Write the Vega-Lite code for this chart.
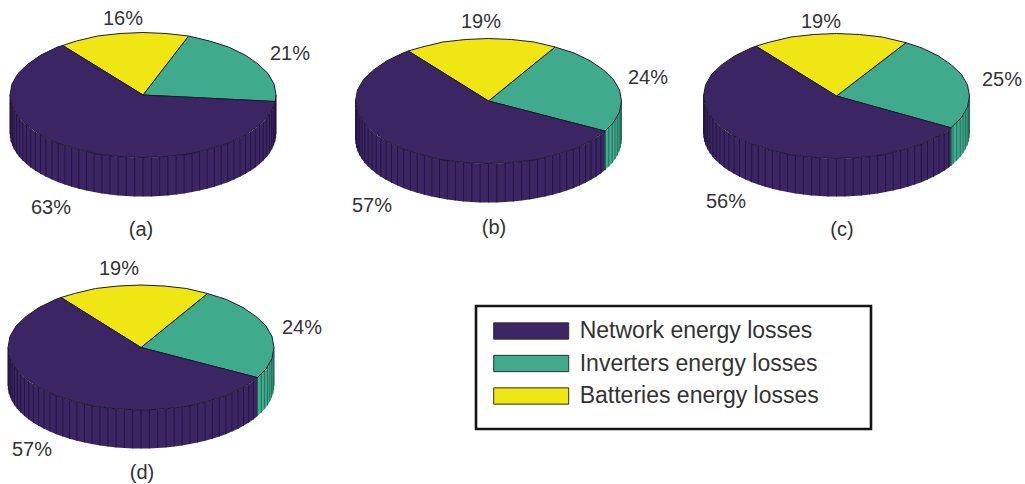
{"$schema":"https://vega.github.io/schema/vega-lite/v6.json","width":1025,"height":484,"padding":0,"autosize":{"type":"fit","contains":"padding"},"background":"white","config":{"view":{"stroke":null}},
"datasets":{
"walls":[
{"pie":"a","s":"N","x":10,"y":95,"b":134},{"pie":"a","s":"N","x":10.3,"y":98.9,"b":137.9},{"pie":"a","s":"N","x":11,"y":102.8,"b":141.8},{"pie":"a","s":"N","x":12.4,"y":106.7,"b":145.7},{"pie":"a","s":"N","x":14.2,"y":110.5,"b":149.5},{"pie":"a","s":"N","x":16.5,"y":114.3,"b":153.3},{"pie":"a","s":"N","x":19.3,"y":118,"b":157},{"pie":"a","s":"N","x":22.7,"y":121.6,"b":160.6},{"pie":"a","s":"N","x":26.5,"y":125.1,"b":164.1},{"pie":"a","s":"N","x":30.7,"y":128.5,"b":167.5},{"pie":"a","s":"N","x":35.4,"y":131.7,"b":170.7},{"pie":"a","s":"N","x":40.5,"y":134.8,"b":173.8},{"pie":"a","s":"N","x":46,"y":137.8,"b":176.8},{"pie":"a","s":"N","x":52,"y":140.6,"b":179.6},{"pie":"a","s":"N","x":58.2,"y":143.2,"b":182.2},{"pie":"a","s":"N","x":64.8,"y":145.6,"b":184.6},{"pie":"a","s":"N","x":71.7,"y":147.8,"b":186.8},{"pie":"a","s":"N","x":78.9,"y":149.8,"b":188.8},{"pie":"a","s":"N","x":86.4,"y":151.6,"b":190.6},{"pie":"a","s":"N","x":94,"y":153.1,"b":192.1},{"pie":"a","s":"N","x":101.9,"y":154.4,"b":193.4},{"pie":"a","s":"N","x":109.9,"y":155.5,"b":194.5},{"pie":"a","s":"N","x":118.1,"y":156.4,"b":195.4},{"pie":"a","s":"N","x":126.3,"y":157,"b":196},{"pie":"a","s":"N","x":134.6,"y":157.4,"b":196.4},{"pie":"a","s":"N","x":143,"y":157.5,"b":196.5},{"pie":"a","s":"N","x":151.4,"y":157.4,"b":196.4},{"pie":"a","s":"N","x":159.7,"y":157,"b":196},{"pie":"a","s":"N","x":167.9,"y":156.4,"b":195.4},{"pie":"a","s":"N","x":176.1,"y":155.5,"b":194.5},{"pie":"a","s":"N","x":184.1,"y":154.4,"b":193.4},{"pie":"a","s":"N","x":192,"y":153.1,"b":192.1},{"pie":"a","s":"N","x":199.6,"y":151.6,"b":190.6},{"pie":"a","s":"N","x":207.1,"y":149.8,"b":188.8},{"pie":"a","s":"N","x":214.3,"y":147.8,"b":186.8},{"pie":"a","s":"N","x":221.2,"y":145.6,"b":184.6},{"pie":"a","s":"N","x":227.8,"y":143.2,"b":182.2},{"pie":"a","s":"N","x":234,"y":140.6,"b":179.6},{"pie":"a","s":"N","x":240,"y":137.8,"b":176.8},{"pie":"a","s":"N","x":245.5,"y":134.8,"b":173.8},{"pie":"a","s":"N","x":250.6,"y":131.7,"b":170.7},{"pie":"a","s":"N","x":255.3,"y":128.5,"b":167.5},{"pie":"a","s":"N","x":259.5,"y":125.1,"b":164.1},{"pie":"a","s":"N","x":263.3,"y":121.6,"b":160.6},{"pie":"a","s":"N","x":266.7,"y":118,"b":157},{"pie":"a","s":"N","x":269.5,"y":114.3,"b":153.3},{"pie":"a","s":"N","x":271.8,"y":110.5,"b":149.5},{"pie":"a","s":"N","x":273.6,"y":106.7,"b":145.7},{"pie":"a","s":"N","x":275,"y":102.8,"b":141.8},{"pie":"a","s":"N","x":275.7,"y":98.9,"b":137.9},{"pie":"a","s":"N","x":276,"y":95,"b":134},
{"pie":"b","s":"N","x":355.5,"y":101,"b":140},{"pie":"b","s":"N","x":355.8,"y":104.9,"b":143.9},{"pie":"b","s":"N","x":356.5,"y":108.8,"b":147.8},{"pie":"b","s":"N","x":357.9,"y":112.7,"b":151.7},{"pie":"b","s":"N","x":359.7,"y":116.5,"b":155.5},{"pie":"b","s":"N","x":362,"y":120.3,"b":159.3},{"pie":"b","s":"N","x":364.8,"y":124,"b":163},{"pie":"b","s":"N","x":368.2,"y":127.6,"b":166.6},{"pie":"b","s":"N","x":372,"y":131.1,"b":170.1},{"pie":"b","s":"N","x":376.2,"y":134.5,"b":173.5},{"pie":"b","s":"N","x":380.9,"y":137.7,"b":176.7},{"pie":"b","s":"N","x":386,"y":140.8,"b":179.8},{"pie":"b","s":"N","x":391.5,"y":143.8,"b":182.8},{"pie":"b","s":"N","x":397.5,"y":146.6,"b":185.6},{"pie":"b","s":"N","x":403.7,"y":149.2,"b":188.2},{"pie":"b","s":"N","x":410.3,"y":151.6,"b":190.6},{"pie":"b","s":"N","x":417.2,"y":153.8,"b":192.8},{"pie":"b","s":"N","x":424.4,"y":155.8,"b":194.8},{"pie":"b","s":"N","x":431.9,"y":157.6,"b":196.6},{"pie":"b","s":"N","x":439.5,"y":159.1,"b":198.1},{"pie":"b","s":"N","x":447.4,"y":160.4,"b":199.4},{"pie":"b","s":"N","x":455.4,"y":161.5,"b":200.5},{"pie":"b","s":"N","x":463.6,"y":162.4,"b":201.4},{"pie":"b","s":"N","x":471.8,"y":163,"b":202},{"pie":"b","s":"N","x":480.1,"y":163.4,"b":202.4},{"pie":"b","s":"N","x":488.5,"y":163.5,"b":202.5},{"pie":"b","s":"N","x":496.9,"y":163.4,"b":202.4},{"pie":"b","s":"N","x":505.2,"y":163,"b":202},{"pie":"b","s":"N","x":513.4,"y":162.4,"b":201.4},{"pie":"b","s":"N","x":521.6,"y":161.5,"b":200.5},{"pie":"b","s":"N","x":529.6,"y":160.4,"b":199.4},{"pie":"b","s":"N","x":537.5,"y":159.1,"b":198.1},{"pie":"b","s":"N","x":545.1,"y":157.6,"b":196.6},{"pie":"b","s":"N","x":552.6,"y":155.8,"b":194.8},{"pie":"b","s":"N","x":559.8,"y":153.8,"b":192.8},{"pie":"b","s":"N","x":566.7,"y":151.6,"b":190.6},{"pie":"b","s":"N","x":573.3,"y":149.2,"b":188.2},{"pie":"b","s":"N","x":579.5,"y":146.6,"b":185.6},{"pie":"b","s":"N","x":585.5,"y":143.8,"b":182.8},{"pie":"b","s":"N","x":591,"y":140.8,"b":179.8},{"pie":"b","s":"N","x":596.1,"y":137.7,"b":176.7},{"pie":"b","s":"N","x":600.8,"y":134.5,"b":173.5},{"pie":"b","s":"N","x":605,"y":131.1,"b":170.1},
{"pie":"b","s":"I","x":605,"y":131.1,"b":170.1},{"pie":"b","s":"I","x":608.8,"y":127.6,"b":166.6},{"pie":"b","s":"I","x":612.2,"y":124,"b":163},{"pie":"b","s":"I","x":615,"y":120.3,"b":159.3},{"pie":"b","s":"I","x":617.3,"y":116.5,"b":155.5},{"pie":"b","s":"I","x":619.1,"y":112.7,"b":151.7},{"pie":"b","s":"I","x":620.5,"y":108.8,"b":147.8},{"pie":"b","s":"I","x":621.2,"y":104.9,"b":143.9},{"pie":"b","s":"I","x":621.5,"y":101,"b":140},
{"pie":"c","s":"N","x":703.5,"y":96,"b":134},{"pie":"c","s":"N","x":703.8,"y":99.9,"b":137.9},{"pie":"c","s":"N","x":704.5,"y":103.8,"b":141.8},{"pie":"c","s":"N","x":705.9,"y":107.7,"b":145.7},{"pie":"c","s":"N","x":707.7,"y":111.5,"b":149.5},{"pie":"c","s":"N","x":710,"y":115.3,"b":153.3},{"pie":"c","s":"N","x":712.8,"y":119,"b":157},{"pie":"c","s":"N","x":716.2,"y":122.6,"b":160.6},{"pie":"c","s":"N","x":720,"y":126.1,"b":164.1},{"pie":"c","s":"N","x":724.2,"y":129.5,"b":167.5},{"pie":"c","s":"N","x":728.9,"y":132.7,"b":170.7},{"pie":"c","s":"N","x":734,"y":135.8,"b":173.8},{"pie":"c","s":"N","x":739.5,"y":138.8,"b":176.8},{"pie":"c","s":"N","x":745.5,"y":141.6,"b":179.6},{"pie":"c","s":"N","x":751.7,"y":144.2,"b":182.2},{"pie":"c","s":"N","x":758.3,"y":146.6,"b":184.6},{"pie":"c","s":"N","x":765.2,"y":148.8,"b":186.8},{"pie":"c","s":"N","x":772.4,"y":150.8,"b":188.8},{"pie":"c","s":"N","x":779.9,"y":152.6,"b":190.6},{"pie":"c","s":"N","x":787.5,"y":154.1,"b":192.1},{"pie":"c","s":"N","x":795.4,"y":155.4,"b":193.4},{"pie":"c","s":"N","x":803.4,"y":156.5,"b":194.5},{"pie":"c","s":"N","x":811.6,"y":157.4,"b":195.4},{"pie":"c","s":"N","x":819.8,"y":158,"b":196},{"pie":"c","s":"N","x":828.1,"y":158.4,"b":196.4},{"pie":"c","s":"N","x":836.5,"y":158.5,"b":196.5},{"pie":"c","s":"N","x":844.9,"y":158.4,"b":196.4},{"pie":"c","s":"N","x":853.2,"y":158,"b":196},{"pie":"c","s":"N","x":861.4,"y":157.4,"b":195.4},{"pie":"c","s":"N","x":869.6,"y":156.5,"b":194.5},{"pie":"c","s":"N","x":877.6,"y":155.4,"b":193.4},{"pie":"c","s":"N","x":885.5,"y":154.1,"b":192.1},{"pie":"c","s":"N","x":893.1,"y":152.6,"b":190.6},{"pie":"c","s":"N","x":900.6,"y":150.8,"b":188.8},{"pie":"c","s":"N","x":907.8,"y":148.8,"b":186.8},{"pie":"c","s":"N","x":914.7,"y":146.6,"b":184.6},{"pie":"c","s":"N","x":921.3,"y":144.2,"b":182.2},{"pie":"c","s":"N","x":927.5,"y":141.6,"b":179.6},{"pie":"c","s":"N","x":933.5,"y":138.8,"b":176.8},{"pie":"c","s":"N","x":939,"y":135.8,"b":173.8},{"pie":"c","s":"N","x":944.1,"y":132.7,"b":170.7},{"pie":"c","s":"N","x":948.8,"y":129.5,"b":167.5},{"pie":"c","s":"N","x":950.9,"y":127.8,"b":165.8},
{"pie":"c","s":"I","x":950.9,"y":127.8,"b":165.8},{"pie":"c","s":"I","x":953,"y":126.1,"b":164.1},{"pie":"c","s":"I","x":956.8,"y":122.6,"b":160.6},{"pie":"c","s":"I","x":960.2,"y":119,"b":157},{"pie":"c","s":"I","x":963,"y":115.3,"b":153.3},{"pie":"c","s":"I","x":965.3,"y":111.5,"b":149.5},{"pie":"c","s":"I","x":967.1,"y":107.7,"b":145.7},{"pie":"c","s":"I","x":968.5,"y":103.8,"b":141.8},{"pie":"c","s":"I","x":969.2,"y":99.9,"b":137.9},{"pie":"c","s":"I","x":969.5,"y":96,"b":134},
{"pie":"d","s":"N","x":8,"y":347.5,"b":386},{"pie":"d","s":"N","x":8.3,"y":351.4,"b":389.9},{"pie":"d","s":"N","x":9,"y":355.3,"b":393.8},{"pie":"d","s":"N","x":10.4,"y":359.2,"b":397.7},{"pie":"d","s":"N","x":12.2,"y":363,"b":401.5},{"pie":"d","s":"N","x":14.5,"y":366.8,"b":405.3},{"pie":"d","s":"N","x":17.3,"y":370.5,"b":409},{"pie":"d","s":"N","x":20.7,"y":374.1,"b":412.6},{"pie":"d","s":"N","x":24.5,"y":377.6,"b":416.1},{"pie":"d","s":"N","x":28.7,"y":381,"b":419.5},{"pie":"d","s":"N","x":33.4,"y":384.2,"b":422.7},{"pie":"d","s":"N","x":38.5,"y":387.3,"b":425.8},{"pie":"d","s":"N","x":44,"y":390.3,"b":428.8},{"pie":"d","s":"N","x":50,"y":393.1,"b":431.6},{"pie":"d","s":"N","x":56.2,"y":395.7,"b":434.2},{"pie":"d","s":"N","x":62.8,"y":398.1,"b":436.6},{"pie":"d","s":"N","x":69.7,"y":400.3,"b":438.8},{"pie":"d","s":"N","x":76.9,"y":402.3,"b":440.8},{"pie":"d","s":"N","x":84.4,"y":404.1,"b":442.6},{"pie":"d","s":"N","x":92,"y":405.6,"b":444.1},{"pie":"d","s":"N","x":99.9,"y":406.9,"b":445.4},{"pie":"d","s":"N","x":107.9,"y":408,"b":446.5},{"pie":"d","s":"N","x":116.1,"y":408.9,"b":447.4},{"pie":"d","s":"N","x":124.3,"y":409.5,"b":448},{"pie":"d","s":"N","x":132.6,"y":409.9,"b":448.4},{"pie":"d","s":"N","x":141,"y":410,"b":448.5},{"pie":"d","s":"N","x":149.4,"y":409.9,"b":448.4},{"pie":"d","s":"N","x":157.7,"y":409.5,"b":448},{"pie":"d","s":"N","x":165.9,"y":408.9,"b":447.4},{"pie":"d","s":"N","x":174.1,"y":408,"b":446.5},{"pie":"d","s":"N","x":182.1,"y":406.9,"b":445.4},{"pie":"d","s":"N","x":190,"y":405.6,"b":444.1},{"pie":"d","s":"N","x":197.6,"y":404.1,"b":442.6},{"pie":"d","s":"N","x":205.1,"y":402.3,"b":440.8},{"pie":"d","s":"N","x":212.3,"y":400.3,"b":438.8},{"pie":"d","s":"N","x":219.2,"y":398.1,"b":436.6},{"pie":"d","s":"N","x":225.8,"y":395.7,"b":434.2},{"pie":"d","s":"N","x":232,"y":393.1,"b":431.6},{"pie":"d","s":"N","x":238,"y":390.3,"b":428.8},{"pie":"d","s":"N","x":243.5,"y":387.3,"b":425.8},{"pie":"d","s":"N","x":248.6,"y":384.2,"b":422.7},{"pie":"d","s":"N","x":253.3,"y":381,"b":419.5},{"pie":"d","s":"N","x":257.5,"y":377.6,"b":416.1},
{"pie":"d","s":"I","x":257.5,"y":377.6,"b":416.1},{"pie":"d","s":"I","x":261.3,"y":374.1,"b":412.6},{"pie":"d","s":"I","x":264.7,"y":370.5,"b":409},{"pie":"d","s":"I","x":267.5,"y":366.8,"b":405.3},{"pie":"d","s":"I","x":269.8,"y":363,"b":401.5},{"pie":"d","s":"I","x":271.6,"y":359.2,"b":397.7},{"pie":"d","s":"I","x":273,"y":355.3,"b":393.8},{"pie":"d","s":"I","x":273.7,"y":351.4,"b":389.9},{"pie":"d","s":"I","x":274,"y":347.5,"b":386}
],
"tops":[
{"pie":"a","s":"I","i":0,"x":143,"y":95},{"pie":"a","s":"I","i":1,"x":275.3,"y":101.5},{"pie":"a","s":"I","i":2,"x":276,"y":95},{"pie":"a","s":"I","i":3,"x":274,"y":84},{"pie":"a","s":"I","i":4,"x":268,"y":73.5},{"pie":"a","s":"I","i":5,"x":258,"y":64},{"pie":"a","s":"I","i":6,"x":245,"y":55},{"pie":"a","s":"I","i":7,"x":228.5,"y":47},{"pie":"a","s":"I","i":8,"x":209.5,"y":41},{"pie":"a","s":"I","i":9,"x":188.5,"y":36},{"pie":"a","s":"I","i":10,"x":143,"y":95},
{"pie":"a","s":"B","i":0,"x":143,"y":95},{"pie":"a","s":"B","i":1,"x":188.5,"y":36},{"pie":"a","s":"B","i":2,"x":166,"y":33.5},{"pie":"a","s":"B","i":3,"x":143,"y":32.5},{"pie":"a","s":"B","i":4,"x":120,"y":33.5},{"pie":"a","s":"B","i":5,"x":97.5,"y":36},{"pie":"a","s":"B","i":6,"x":76.5,"y":41},{"pie":"a","s":"B","i":7,"x":62.7,"y":45.5},{"pie":"a","s":"B","i":8,"x":143,"y":95},
{"pie":"a","s":"N","i":0,"x":143,"y":95},{"pie":"a","s":"N","i":1,"x":62.7,"y":45.5},{"pie":"a","s":"N","i":2,"x":57.5,"y":47},{"pie":"a","s":"N","i":3,"x":41,"y":55},{"pie":"a","s":"N","i":4,"x":28,"y":64},{"pie":"a","s":"N","i":5,"x":18,"y":73.5},{"pie":"a","s":"N","i":6,"x":12,"y":84},{"pie":"a","s":"N","i":7,"x":10,"y":95},{"pie":"a","s":"N","i":8,"x":12,"y":106},{"pie":"a","s":"N","i":9,"x":18,"y":116.5},{"pie":"a","s":"N","i":10,"x":28,"y":126},{"pie":"a","s":"N","i":11,"x":41,"y":135},{"pie":"a","s":"N","i":12,"x":57.5,"y":143},{"pie":"a","s":"N","i":13,"x":76.5,"y":149},{"pie":"a","s":"N","i":14,"x":97.5,"y":154},{"pie":"a","s":"N","i":15,"x":120,"y":156.5},{"pie":"a","s":"N","i":16,"x":143,"y":157.5},{"pie":"a","s":"N","i":17,"x":166,"y":156.5},{"pie":"a","s":"N","i":18,"x":188.5,"y":154},{"pie":"a","s":"N","i":19,"x":209.5,"y":149},{"pie":"a","s":"N","i":20,"x":228.5,"y":143},{"pie":"a","s":"N","i":21,"x":245,"y":135},{"pie":"a","s":"N","i":22,"x":258,"y":126},{"pie":"a","s":"N","i":23,"x":268,"y":116.5},{"pie":"a","s":"N","i":24,"x":274,"y":106},{"pie":"a","s":"N","i":25,"x":275.3,"y":101.5},{"pie":"a","s":"N","i":26,"x":143,"y":95},
{"pie":"b","s":"I","i":0,"x":488.5,"y":101},{"pie":"b","s":"I","i":1,"x":605,"y":131.1},{"pie":"b","s":"I","i":2,"x":613.5,"y":122.5},{"pie":"b","s":"I","i":3,"x":619.5,"y":112},{"pie":"b","s":"I","i":4,"x":621.5,"y":101},{"pie":"b","s":"I","i":5,"x":619.5,"y":90},{"pie":"b","s":"I","i":6,"x":613.5,"y":79.5},{"pie":"b","s":"I","i":7,"x":603.5,"y":70},{"pie":"b","s":"I","i":8,"x":590.5,"y":61},{"pie":"b","s":"I","i":9,"x":574,"y":53},{"pie":"b","s":"I","i":10,"x":555,"y":47},{"pie":"b","s":"I","i":11,"x":488.5,"y":101},
{"pie":"b","s":"B","i":0,"x":488.5,"y":101},{"pie":"b","s":"B","i":1,"x":555,"y":47},{"pie":"b","s":"B","i":2,"x":534,"y":42},{"pie":"b","s":"B","i":3,"x":511.5,"y":39.5},{"pie":"b","s":"B","i":4,"x":488.5,"y":38.5},{"pie":"b","s":"B","i":5,"x":465.5,"y":39.5},{"pie":"b","s":"B","i":6,"x":443,"y":42},{"pie":"b","s":"B","i":7,"x":422,"y":47},{"pie":"b","s":"B","i":8,"x":408.3,"y":51},{"pie":"b","s":"B","i":9,"x":488.5,"y":101},
{"pie":"b","s":"N","i":0,"x":488.5,"y":101},{"pie":"b","s":"N","i":1,"x":408.3,"y":51},{"pie":"b","s":"N","i":2,"x":403,"y":53},{"pie":"b","s":"N","i":3,"x":386.5,"y":61},{"pie":"b","s":"N","i":4,"x":373.5,"y":70},{"pie":"b","s":"N","i":5,"x":363.5,"y":79.5},{"pie":"b","s":"N","i":6,"x":357.5,"y":90},{"pie":"b","s":"N","i":7,"x":355.5,"y":101},{"pie":"b","s":"N","i":8,"x":357.5,"y":112},{"pie":"b","s":"N","i":9,"x":363.5,"y":122.5},{"pie":"b","s":"N","i":10,"x":373.5,"y":132},{"pie":"b","s":"N","i":11,"x":386.5,"y":141},{"pie":"b","s":"N","i":12,"x":403,"y":149},{"pie":"b","s":"N","i":13,"x":422,"y":155},{"pie":"b","s":"N","i":14,"x":443,"y":160},{"pie":"b","s":"N","i":15,"x":465.5,"y":162.5},{"pie":"b","s":"N","i":16,"x":488.5,"y":163.5},{"pie":"b","s":"N","i":17,"x":511.5,"y":162.5},{"pie":"b","s":"N","i":18,"x":534,"y":160},{"pie":"b","s":"N","i":19,"x":555,"y":155},{"pie":"b","s":"N","i":20,"x":574,"y":149},{"pie":"b","s":"N","i":21,"x":590.5,"y":141},{"pie":"b","s":"N","i":22,"x":605,"y":131.1},{"pie":"b","s":"N","i":23,"x":488.5,"y":101},
{"pie":"c","s":"I","i":0,"x":836.5,"y":96},{"pie":"c","s":"I","i":1,"x":950.9,"y":127.8},{"pie":"c","s":"I","i":2,"x":961.5,"y":117.5},{"pie":"c","s":"I","i":3,"x":967.5,"y":107},{"pie":"c","s":"I","i":4,"x":969.5,"y":96},{"pie":"c","s":"I","i":5,"x":967.5,"y":85},{"pie":"c","s":"I","i":6,"x":961.5,"y":74.5},{"pie":"c","s":"I","i":7,"x":951.5,"y":65},{"pie":"c","s":"I","i":8,"x":938.5,"y":56},{"pie":"c","s":"I","i":9,"x":922,"y":48},{"pie":"c","s":"I","i":10,"x":906,"y":42.7},{"pie":"c","s":"I","i":11,"x":836.5,"y":96},
{"pie":"c","s":"B","i":0,"x":836.5,"y":96},{"pie":"c","s":"B","i":1,"x":906,"y":42.7},{"pie":"c","s":"B","i":2,"x":882,"y":37},{"pie":"c","s":"B","i":3,"x":859.5,"y":34.5},{"pie":"c","s":"B","i":4,"x":836.5,"y":33.5},{"pie":"c","s":"B","i":5,"x":813.5,"y":34.5},{"pie":"c","s":"B","i":6,"x":791,"y":37},{"pie":"c","s":"B","i":7,"x":770,"y":42},{"pie":"c","s":"B","i":8,"x":756,"y":46.2},{"pie":"c","s":"B","i":9,"x":836.5,"y":96},
{"pie":"c","s":"N","i":0,"x":836.5,"y":96},{"pie":"c","s":"N","i":1,"x":756,"y":46.2},{"pie":"c","s":"N","i":2,"x":751,"y":48},{"pie":"c","s":"N","i":3,"x":734.5,"y":56},{"pie":"c","s":"N","i":4,"x":721.5,"y":65},{"pie":"c","s":"N","i":5,"x":711.5,"y":74.5},{"pie":"c","s":"N","i":6,"x":705.5,"y":85},{"pie":"c","s":"N","i":7,"x":703.5,"y":96},{"pie":"c","s":"N","i":8,"x":705.5,"y":107},{"pie":"c","s":"N","i":9,"x":711.5,"y":117.5},{"pie":"c","s":"N","i":10,"x":721.5,"y":127},{"pie":"c","s":"N","i":11,"x":734.5,"y":136},{"pie":"c","s":"N","i":12,"x":751,"y":144},{"pie":"c","s":"N","i":13,"x":770,"y":150},{"pie":"c","s":"N","i":14,"x":791,"y":155},{"pie":"c","s":"N","i":15,"x":813.5,"y":157.5},{"pie":"c","s":"N","i":16,"x":836.5,"y":158.5},{"pie":"c","s":"N","i":17,"x":859.5,"y":157.5},{"pie":"c","s":"N","i":18,"x":882,"y":155},{"pie":"c","s":"N","i":19,"x":903,"y":150},{"pie":"c","s":"N","i":20,"x":922,"y":144},{"pie":"c","s":"N","i":21,"x":938.5,"y":136},{"pie":"c","s":"N","i":22,"x":950.9,"y":127.8},{"pie":"c","s":"N","i":23,"x":836.5,"y":96},
{"pie":"d","s":"I","i":0,"x":141,"y":347.5},{"pie":"d","s":"I","i":1,"x":257.5,"y":377.6},{"pie":"d","s":"I","i":2,"x":266,"y":369},{"pie":"d","s":"I","i":3,"x":272,"y":358.5},{"pie":"d","s":"I","i":4,"x":274,"y":347.5},{"pie":"d","s":"I","i":5,"x":272,"y":336.5},{"pie":"d","s":"I","i":6,"x":266,"y":326},{"pie":"d","s":"I","i":7,"x":256,"y":316.5},{"pie":"d","s":"I","i":8,"x":243,"y":307.5},{"pie":"d","s":"I","i":9,"x":226.5,"y":299.5},{"pie":"d","s":"I","i":10,"x":207.5,"y":293.5},{"pie":"d","s":"I","i":11,"x":141,"y":347.5},
{"pie":"d","s":"B","i":0,"x":141,"y":347.5},{"pie":"d","s":"B","i":1,"x":207.5,"y":293.5},{"pie":"d","s":"B","i":2,"x":186.5,"y":288.5},{"pie":"d","s":"B","i":3,"x":164,"y":286},{"pie":"d","s":"B","i":4,"x":141,"y":285},{"pie":"d","s":"B","i":5,"x":118,"y":286},{"pie":"d","s":"B","i":6,"x":95.5,"y":288.5},{"pie":"d","s":"B","i":7,"x":74.5,"y":293.5},{"pie":"d","s":"B","i":8,"x":61,"y":297.5},{"pie":"d","s":"B","i":9,"x":141,"y":347.5},
{"pie":"d","s":"N","i":0,"x":141,"y":347.5},{"pie":"d","s":"N","i":1,"x":61,"y":297.5},{"pie":"d","s":"N","i":2,"x":55.5,"y":299.5},{"pie":"d","s":"N","i":3,"x":39,"y":307.5},{"pie":"d","s":"N","i":4,"x":26,"y":316.5},{"pie":"d","s":"N","i":5,"x":16,"y":326},{"pie":"d","s":"N","i":6,"x":10,"y":336.5},{"pie":"d","s":"N","i":7,"x":8,"y":347.5},{"pie":"d","s":"N","i":8,"x":10,"y":358.5},{"pie":"d","s":"N","i":9,"x":16,"y":369},{"pie":"d","s":"N","i":10,"x":26,"y":378.5},{"pie":"d","s":"N","i":11,"x":39,"y":387.5},{"pie":"d","s":"N","i":12,"x":55.5,"y":395.5},{"pie":"d","s":"N","i":13,"x":74.5,"y":401.5},{"pie":"d","s":"N","i":14,"x":95.5,"y":406.5},{"pie":"d","s":"N","i":15,"x":118,"y":409},{"pie":"d","s":"N","i":16,"x":141,"y":410},{"pie":"d","s":"N","i":17,"x":164,"y":409},{"pie":"d","s":"N","i":18,"x":186.5,"y":406.5},{"pie":"d","s":"N","i":19,"x":207.5,"y":401.5},{"pie":"d","s":"N","i":20,"x":226.5,"y":395.5},{"pie":"d","s":"N","i":21,"x":243,"y":387.5},{"pie":"d","s":"N","i":22,"x":257.5,"y":377.6},{"pie":"d","s":"N","i":23,"x":141,"y":347.5}
],
"labels":[
{"text":"16%","x":123,"y":19},{"text":"21%","x":290,"y":54},{"text":"63%","x":51,"y":208},{"text":"(a)","x":141,"y":230},
{"text":"19%","x":481,"y":22},{"text":"24%","x":648,"y":78},{"text":"57%","x":372,"y":206},{"text":"(b)","x":494,"y":228},
{"text":"19%","x":821,"y":22},{"text":"25%","x":1002,"y":80},{"text":"56%","x":726,"y":202},{"text":"(c)","x":842,"y":230},
{"text":"19%","x":119,"y":269},{"text":"24%","x":302,"y":328},{"text":"57%","x":32,"y":450},{"text":"(d)","x":142,"y":473}
],
"frame":[{"x":476,"x2":871,"y":306,"y2":429}]
},
"layer":[
{"data":{"name":"walls"},"mark":{"type":"area"},"encoding":{
"x":{"field":"x","type":"quantitative","scale":{"domain":[0,1025],"nice":false,"zero":false},"axis":null},
"y":{"field":"y","type":"quantitative","scale":{"domain":[484,0],"nice":false,"zero":false},"axis":null},
"y2":{"field":"b"},
"detail":{"field":"pie"},
"fill":{"field":"s","type":"nominal","scale":{"domain":["N","I","B"],"range":["#3b2563","#40ab8c","#f0e614"]}}}},
{"data":{"name":"walls"},"mark":{"type":"rule","strokeWidth":0.9},"encoding":{
"x":{"field":"x","type":"quantitative"},
"y":{"field":"y","type":"quantitative"},
"y2":{"field":"b"},
"stroke":{"field":"s","type":"nominal","scale":{"domain":["N","I"],"range":["#21143f","#206a55"]},"legend":null}}},
{"data":{"name":"tops"},"mark":{"type":"line","stroke":"#1c1a2c","strokeWidth":1,"strokeJoin":"round"},"encoding":{
"x":{"field":"x","type":"quantitative"},
"y":{"field":"y","type":"quantitative"},
"order":{"field":"i","type":"quantitative"},
"detail":{"field":"pie"},
"fill":{"field":"s","type":"nominal","legend":{"title":null,"orient":"none","legendX":519.7,"legendY":319.5,
"symbolType":"M-4.6,-1H4.6V1H-4.6Z","symbolSize":266,"symbolStrokeWidth":1,"symbolStrokeColor":"#33302a","symbolOpacity":1,
"labelFont":"Liberation Sans","labelFontSize":23,"labelColor":"#333333","labelOffset":37,"labelLimit":320,"rowPadding":8.5,
"labelExpr":"{'N':'Network energy losses','I':'Inverters energy losses','B':'Batteries energy losses'}[datum.value]"}}}},
{"data":{"name":"frame"},"mark":{"type":"rect","fill":null,"stroke":"#141414","strokeWidth":2.6},"encoding":{
"x":{"field":"x","type":"quantitative"},"x2":{"field":"x2"},
"y":{"field":"y","type":"quantitative"},"y2":{"field":"y2"}}},
{"data":{"name":"labels"},"mark":{"type":"text","font":"Liberation Sans","fontSize":20,"fill":"#333333","align":"center","baseline":"middle"},"encoding":{
"x":{"field":"x","type":"quantitative"},
"y":{"field":"y","type":"quantitative"},
"text":{"field":"text","type":"nominal"}}}
],
"resolve":{"scale":{"stroke":"independent"}}}
